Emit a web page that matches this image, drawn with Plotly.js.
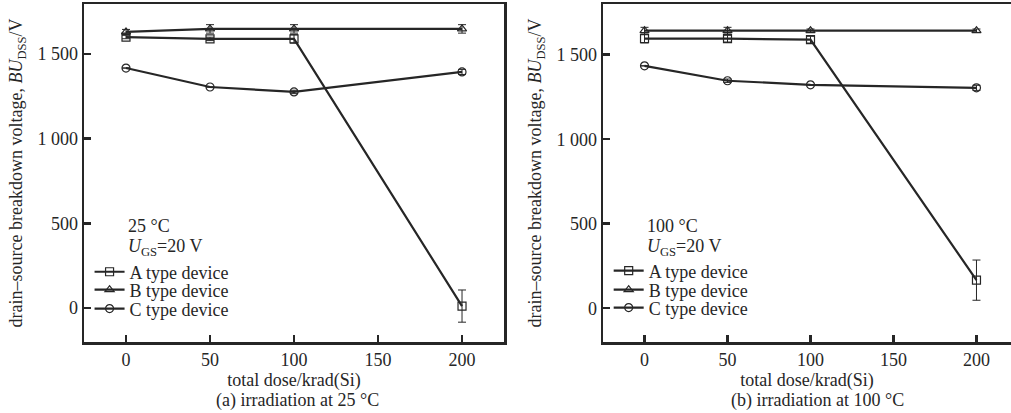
<!DOCTYPE html>
<html>
<head>
<meta charset="utf-8">
<script src="https://cdn.plot.ly/plotly-3.0.1.min.js"></script>
<style>html,body{margin:0;padding:0;background:#fff;}#chart{width:1011px;height:413px;}</style>
</head>
<body>
<div id="chart"></div>
<script>
// ---- data ----
const dose = [0, 50, 100, 200];
const seriesNames = ["A type device", "B type device", "C type device"];
const symbols = ["square-open", "triangle-up-open", "circle-open"];

// (a) irradiation at 25 °C
const a25 = [1600, 1589, 1589, 12];
const a25err = [10, 10, 25, 95];
const b25 = [1630, 1648, 1648, 1648];
const b25err = [15, 25, 25, 25];
const c25 = [1417, 1305, 1276, 1394];
const c25err = [0, 0, 10, 15];

// (b) irradiation at 100 °C
const a100 = [1595, 1595, 1589, 166];
const a100err = [25, 20, 20, 119];
const b100 = [1642, 1642, 1642, 1642];
const b100err = [20, 20, 10, 10];
const c100 = [1434, 1346, 1322, 1304];
const c100err = [0, 10, 0, 15];

const yTickVals = [0, 500, 1000, 1500];
const yTickText = ["0", "500", "1 000", "1 500"];
const xTickVals = [0, 50, 100, 150, 200];

const ink = "#262626";
const font = "Liberation Serif, Times New Roman, serif";

function mk(x, y, err, i, xa, ya, leg) {
  return {
    x: x, y: y, type: "scatter", mode: "lines+markers",
    name: seriesNames[i], xaxis: xa, yaxis: ya, legend: leg,
    line: {color: ink, width: 2.2},
    marker: {symbol: symbols[i], size: 8, color: ink, line: {color: ink, width: 1.2}},
    error_y: {type: "data", array: err, visible: true, color: ink, thickness: 1, width: 4}
  };
}

const traces = [
  mk(dose, a25, a25err, 0, "x", "y", "legend"),
  mk(dose, b25, b25err, 1, "x", "y", "legend2"),
  mk(dose, c25, c25err, 2, "x", "y", "legend3"),
  mk(dose, a100, a100err, 0, "x2", "y2", "legend4"),
  mk(dose, b100, b100err, 1, "x2", "y2", "legend5"),
  mk(dose, c100, c100err, 2, "x2", "y2", "legend6")
];

const axFont = {family: font, size: 18, color: ink};
const titleFont = {family: font, size: 18, color: ink};
function xax(domain, range, anchor, mirror) {
  return {
    domain: domain, range: range, anchor: anchor,
    tickvals: xTickVals, ticks: "inside", ticklen: 7, tickwidth: 2.5, tickcolor: ink,
    showline: true, linecolor: ink, linewidth: 2.5, mirror: mirror,
    showgrid: false, zeroline: false, tickfont: axFont,
    title: {text: "total dose/krad(Si)", font: titleFont, standoff: 2}
  };
}
function yax(range, anchor, mirror) {
  return {
    domain: [0, 1], range: range, anchor: anchor,
    tickvals: yTickVals, ticktext: yTickText, ticks: "inside", ticklen: 7, tickwidth: 2.5, tickcolor: ink,
    showline: true, linecolor: ink, linewidth: 2.5, mirror: mirror,
    showgrid: false, zeroline: false, tickfont: axFont,
    title: {text: "drain\u2013source breakdown voltage, <i>BU</i><sub>DSS</sub>/V", font: titleFont, standoff: 10}
  };
}

const legFont = {family: font, size: 18, color: ink};
function leg(x, y) {
  return {x: x, y: y, xanchor: "left", yanchor: "middle", font: legFont,
          bgcolor: "rgba(0,0,0,0)", itemwidth: 30, borderwidth: 0};
}

const layout = {
  width: 1011, height: 413,
  margin: {l: 84, r: 0, t: 4, b: 71},
  paper_bgcolor: "#fff", plot_bgcolor: "#fff",
  showlegend: true,
  xaxis: xax([0, 0.4531], [-25, 225], "y", true),
  yaxis: yax([-200, 1795], "x", true),
  xaxis2: xax([0.5599, 1], [-25, 220.8], "y2", true),
  yaxis2: yax([-200, 1800], "x2", false),
  legend: leg(0.006, 0.207),
  legend2: leg(0.006, 0.154),
  legend3: leg(0.006, 0.098),
  legend4: leg(0.566, 0.210),
  legend5: leg(0.566, 0.154),
  legend6: leg(0.566, 0.101),
  annotations: [
    {xref: "x", yref: "y", x: 0, y: 484, xanchor: "left", yanchor: "middle", showarrow: false,
     text: "25 \u00b0C", font: legFont},
    {xref: "x", yref: "y", x: 0, y: 360, xanchor: "left", yanchor: "middle", showarrow: false,
     text: "<i>U</i><sub>GS</sub>=20 V", font: legFont},
    {xref: "x2", yref: "y2", x: 0, y: 484, xanchor: "left", yanchor: "middle", showarrow: false,
     text: "100 \u00b0C", font: legFont},
    {xref: "x2", yref: "y2", x: 0, y: 360, xanchor: "left", yanchor: "middle", showarrow: false,
     text: "<i>U</i><sub>GS</sub>=20 V", font: legFont},
    {xref: "paper", yref: "paper", x: 0.2298, y: -0.135, xanchor: "center", yanchor: "top", showarrow: false,
     text: "(a) irradiation at 25 \u00b0C", font: legFont},
    {xref: "paper", yref: "paper", x: 0.791, y: -0.135, xanchor: "center", yanchor: "top", showarrow: false,
     text: "(b) irradiation at 100 \u00b0C", font: legFont}
  ]
};

Plotly.newPlot("chart", traces, layout, {displayModeBar: false, staticPlot: true});
</script>
</body>
</html>
